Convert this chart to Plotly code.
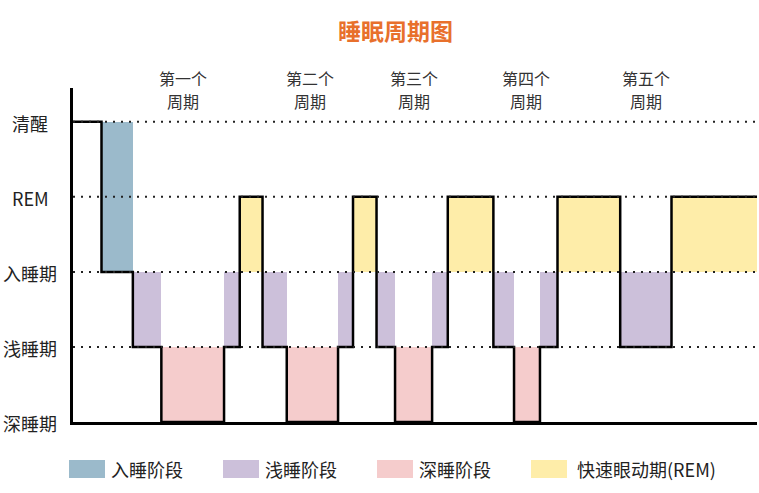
import plotly.graph_objects as go

# ---- data ----
stage_names = ['深睡期', '浅睡期', '入睡期', 'REM', '清醒']      # y levels 0..4
transition_times = [0, 20, 42, 62, 106, 117, 133, 150, 186, 196.5, 213,
                    226, 252, 263, 295, 309.5, 327.7, 340, 384, 420, 480]
stage_sequence = ['清醒', '入睡期', '浅睡期', '深睡期', '浅睡期', 'REM', '浅睡期',
                  '深睡期', '浅睡期', 'REM', '浅睡期', '深睡期', '浅睡期', 'REM',
                  '浅睡期', '深睡期', '浅睡期', 'REM', '浅睡期', 'REM']
cycle_labels = ['第一个', '第二个', '第三个', '第四个', '第五个']
cycle_centers = [77, 166, 239, 318, 402]
legend_names = ['入睡阶段', '浅睡阶段', '深睡阶段', ' 快速眼动期(REM)']

# band (low, high) of the coloured block for each stage
bands = {'入睡期': (2, 4), '浅睡期': (1, 2), '深睡期': (0, 1), 'REM': (2, 3)}
colors = {'入睡期': '#9BBACB', '浅睡期': '#CCC0DA', '深睡期': '#F5CCCC', 'REM': '#FEEDA9'}
legend_stages = ['入睡期', '浅睡期', '深睡期', 'REM']

level = {n: i for i, n in enumerate(stage_names)}

# plot-area geometry (pixels)
W, H = 759, 493
L, R, T, B = 73, 2, 88, 71
pw, ph = W - L - R, H - T - B
def px(x):
    return (x - L) / pw
def py(y):
    return (H - B - y) / ph

FONT = 'Noto Sans CJK SC'
fig = go.Figure()

# coloured blocks
for st in legend_stages:
    xs, ws, bs, hs = [], [], [], []
    for i, s in enumerate(stage_sequence):
        if s != st:
            continue
        x0, x1 = transition_times[i], transition_times[i + 1]
        lo, hi = bands[s]
        xs.append((x0 + x1) / 2)
        ws.append(x1 - x0)
        bs.append(lo)
        hs.append(hi - lo)
    fig.add_trace(go.Bar(x=xs, y=hs, base=bs, width=ws,
                         marker=dict(color=colors[st], line=dict(width=0)),
                         showlegend=False, hoverinfo='skip'))

# step line
ys = [level[s] for s in stage_sequence] + [level[stage_sequence[-1]]]
fig.add_trace(go.Scatter(x=transition_times, y=ys, mode='lines',
                         line=dict(color='black', width=2.5, shape='hv'),
                         showlegend=False, hoverinfo='skip'))

shapes = []
annotations = []

# dotted grid lines
for lv in range(1, len(stage_names)):
    shapes.append(dict(type='line', xref='paper', yref='y', x0=0, x1=1, y0=lv, y1=lv,
                       line=dict(color='#222', width=2, dash='2px,6px'), layer='above'))

# y labels
for i, n in enumerate(stage_names):
    annotations.append(dict(x=px(30), xref='paper', y=i, yref='y', text=n,
                            showarrow=False, xanchor='center', yanchor='middle',
                            yshift=-1,
                            font=dict(size=18, color='#222', family=FONT)))

# cycle labels
for c, lab in zip(cycle_centers, cycle_labels):
    annotations.append(dict(x=c, xref='x', y=py(78), yref='paper', text=lab,
                            showarrow=False, xanchor='center', yanchor='middle',
                            font=dict(size=16, color='#333', family=FONT)))
    annotations.append(dict(x=c, xref='x', y=py(101), yref='paper', text='周期',
                            showarrow=False, xanchor='center', yanchor='middle',
                            font=dict(size=16, color='#333', family=FONT)))

# title
annotations.append(dict(x=px(395), xref='paper', y=py(30), yref='paper',
                        text='<b>睡眠周期图</b>', showarrow=False,
                        xanchor='center', yanchor='middle',
                        font=dict(size=23, color='#E8702C', family=FONT)))

# manual legend
sw_x = [69, 223, 377, 531]
for x0, st, name in zip(sw_x, legend_stages, legend_names):
    shapes.append(dict(type='rect', xref='paper', yref='paper',
                       x0=px(x0), x1=px(x0 + 36), y0=py(478), y1=py(460),
                       fillcolor=colors[st], line=dict(width=0)))
    annotations.append(dict(x=px(x0 + 40), xref='paper', y=py(469), yref='paper',
                            text=name, showarrow=False, xanchor='left', yanchor='middle',
                            font=dict(size=18, color='#222', family=FONT)))

fig.update_layout(
    width=W, height=H,
    margin=dict(l=L, r=R, t=T, b=B),
    paper_bgcolor='white', plot_bgcolor='white',
    barmode='overlay', bargap=0,
    shapes=shapes, annotations=annotations,
    xaxis=dict(range=[0, 480], showgrid=False, zeroline=False, showticklabels=False,
               ticks='', showline=True, linecolor='black', linewidth=2.5, fixedrange=True),
    yaxis=dict(range=[0, 4.45], showgrid=False, zeroline=False, showticklabels=False,
               ticks='', showline=True, linecolor='black', linewidth=2.5, fixedrange=True),
    font=dict(family=FONT),
)

fig.write_html('out.html', config={'displayModeBar': False},
               post_script="document.body.style.margin='0';document.body.style.overflow='hidden';")
